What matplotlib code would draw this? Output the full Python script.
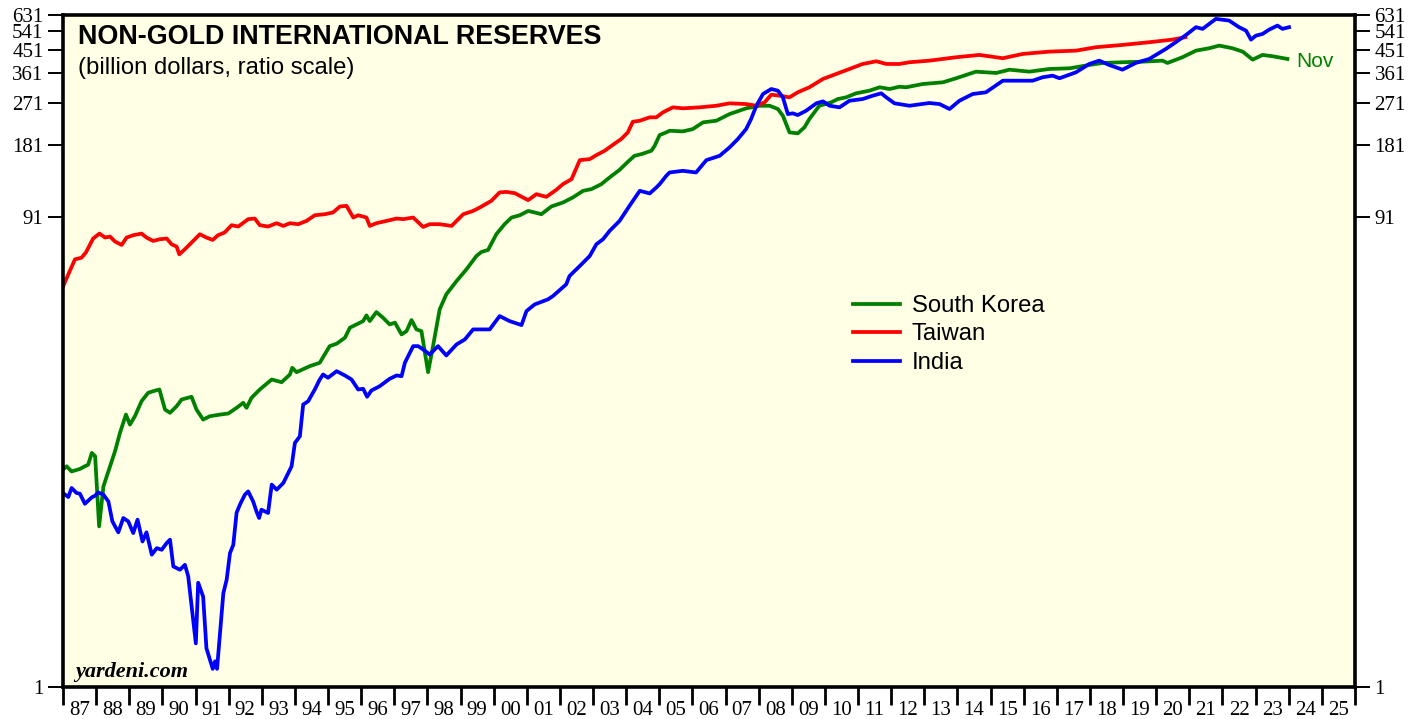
import numpy as np
import matplotlib
matplotlib.use("Agg")
import matplotlib.pyplot as plt
from matplotlib.ticker import FixedLocator, FixedFormatter, NullFormatter, NullLocator

# ---------------- data (billion US$) ----------------
korea_years = [1987.00, 1987.11, 1987.26, 1987.51, 1987.66, 1987.76, 1987.87, 1987.97,
               1988.09, 1988.22, 1988.37, 1988.57, 1988.72, 1988.90,
               1989.02, 1989.17, 1989.37, 1989.57, 1989.72, 1989.91,
               1990.08, 1990.23, 1990.43, 1990.58, 1990.88,
               1991.03, 1991.23, 1991.43, 1991.74, 1991.99,
               1992.24, 1992.44, 1992.54, 1992.69, 1992.94,
               1993.30, 1993.60, 1993.85, 1993.92,
               1994.05, 1994.45, 1994.75,
               1995.05, 1995.26, 1995.51, 1995.66, 1995.86,
               1996.06, 1996.16, 1996.26, 1996.46, 1996.66, 1996.86,
               1997.02, 1997.22, 1997.37, 1997.52, 1997.67, 1997.82,
               1998.02, 1998.17, 1998.37, 1998.57, 1998.88,
               1999.18, 1999.48, 1999.63, 1999.83,
               2000.08, 2000.33, 2000.54, 2000.79,
               2001.04, 2001.24, 2001.44, 2001.74,
               2002.09, 2002.39, 2002.70, 2002.95,
               2003.25, 2003.50, 2003.80,
               2004.05, 2004.25, 2004.46, 2004.76, 2004.86,
               2005.01, 2005.21, 2005.31, 2005.71,
               2006.01, 2006.32, 2006.72,
               2007.12, 2007.62,
               2008.03, 2008.33, 2008.58, 2008.73, 2008.93,
               2009.18, 2009.38, 2009.53, 2009.83,
               2010.19, 2010.39, 2010.64, 2010.94,
               2011.34, 2011.65, 2011.95,
               2012.25, 2012.45, 2012.95,
               2013.56, 2013.96,
               2014.56,
               2015.17, 2015.57,
               2016.17, 2016.77,
               2017.38, 2017.98,
               2018.38, 2018.98,
               2019.59,
               2020.19, 2020.34, 2020.79,
               2021.20, 2021.60, 2021.90,
               2022.30, 2022.61, 2022.91,
               2023.21, 2023.51, 2023.96]
korea_vals = [8.05, 8.31, 7.91, 8.10, 8.31, 8.44, 9.45, 9.15,
              4.67, 6.85, 7.91, 9.60, 11.45, 13.65,
              12.40, 13.43, 15.51, 16.82, 17.08, 17.36,
              14.32, 13.88, 14.79, 15.77, 16.19,
              14.32, 13.01, 13.43, 13.65, 13.79,
              14.56, 15.28, 14.56, 16.03, 17.36,
              19.11, 18.62, 20.05, 21.38,
              20.50, 21.72, 22.44,
              26.32, 26.94, 28.53, 31.41, 32.42,
              33.47, 35.35, 33.47, 36.49, 34.57, 32.42,
              32.96, 29.45, 30.40, 33.80, 30.90, 30.40,
              20.50, 26.32, 37.45, 43.26, 49.15,
              55.02, 62.51, 64.96, 66.22,
              77.0, 84.8, 90.4, 92.4,
              96.3, 94.9, 93.3, 100.5,
              104.4, 109.6, 116.8, 118.7,
              124.5, 132.8, 142.8,
              154.3, 163.4, 166.1, 171.5, 179.9,
              199.4, 204.6, 207.8, 206.6,
              211.2, 225.3, 228.8,
              243.9, 257.7,
              264.2, 264.2, 256.0, 240.0, 204.6,
              202.7, 214.7, 232.5, 264.2,
              273.0, 281.8, 286.4, 297.7,
              305.2, 315.4, 310.2,
              317.1, 315.4, 325.4,
              330.8, 343.9,
              366.4,
              361.8, 373.4,
              366.4, 375.9,
              378.4, 390.7,
              398.3, 401.0,
              403.3,
              407.2, 398.3, 420.7,
              448.3, 458.7, 470.4,
              458.7, 444.0, 411.2,
              430.2, 424.8, 414.0]

taiwan_years = [1987.00, 1987.16, 1987.36, 1987.56, 1987.69, 1987.91, 1988.10, 1988.27, 1988.42, 1988.57,
                1988.77, 1988.92, 1989.12, 1989.37, 1989.52, 1989.72, 1989.92, 1990.13, 1990.28, 1990.43,
                1990.51, 1990.68, 1990.93, 1991.13, 1991.33, 1991.52, 1991.68, 1991.88, 1992.09, 1992.29,
                1992.59, 1992.79, 1992.94, 1993.19, 1993.45, 1993.65, 1993.85, 1994.10, 1994.35, 1994.60,
                1994.90, 1995.15, 1995.36, 1995.56, 1995.76, 1995.91, 1996.16, 1996.26, 1996.46, 1996.76,
                1997.07, 1997.27, 1997.57, 1997.87, 1998.07, 1998.37, 1998.73, 1999.08, 1999.38, 1999.58,
                1999.93, 2000.18, 2000.38, 2000.64, 2000.79, 2001.04, 2001.29, 2001.59, 2001.89, 2002.09,
                2002.35, 2002.60, 2002.90, 2003.10, 2003.35, 2003.70, 2003.85, 2004.05, 2004.20, 2004.41,
                2004.71, 2004.91, 2005.11, 2005.41, 2005.71, 2006.22, 2006.72, 2007.12, 2007.62, 2007.93,
                2008.18, 2008.38, 2008.63, 2008.93, 2009.18, 2009.53, 2009.94, 2010.34, 2010.74, 2011.14,
                2011.55, 2011.85, 2012.25, 2012.55, 2013.15, 2013.96, 2014.66, 2015.37, 2015.97, 2016.77,
                2017.58, 2018.18, 2018.98, 2019.79, 2020.49, 2020.88]
taiwan_vals = [46.6, 52.4, 60.5, 61.5, 64.6, 73.9, 77.5, 74.6, 75.3, 71.8,
               69.5, 74.6, 76.3, 77.5, 74.6, 72.2, 73.4, 73.9, 69.9, 68.4,
               63.5, 66.7, 72.2, 77.0, 74.6, 72.9, 76.3, 78.3, 84.0, 82.9,
               89.0, 89.5, 84.0, 82.9, 85.6, 83.4, 85.6, 84.8, 87.5, 92.4,
               93.3, 94.9, 100.5, 101.1, 90.4, 92.4, 90.4, 83.4, 85.6, 87.5,
               89.5, 89.0, 90.4, 82.6, 84.8, 84.8, 83.4, 93.3, 96.3, 99.5,
               106.1, 115.0, 115.6, 114.2, 111.3, 106.8, 113.1, 110.2, 117.9, 124.5,
               130.6, 156.8, 158.3, 164.5, 171.5, 185.8, 191.9, 204.6, 226.6, 228.8,
               236.4, 236.4, 248.0, 260.2, 257.7, 260.2, 264.2, 270.4, 268.5, 264.2,
               273.0, 293.8, 290.9, 286.4, 300.6, 315.4, 341.6, 358.4, 375.9, 394.5,
               404.8, 394.5, 394.5, 401.0, 407.2, 420.7, 430.2, 416.8, 434.3, 444.0,
               448.3, 463.2, 473.5, 486.0, 498.3, 510.0]

india_years = [1987.00, 1987.16, 1987.26, 1987.41, 1987.51, 1987.66, 1987.87, 1987.97, 1988.06, 1988.22,
               1988.37, 1988.49, 1988.67, 1988.82, 1988.97, 1989.12, 1989.25, 1989.40, 1989.52, 1989.68,
               1989.83, 1989.98, 1990.13, 1990.23, 1990.33, 1990.53, 1990.68, 1990.78, 1990.93, 1991.01,
               1991.08, 1991.23, 1991.33, 1991.52, 1991.59, 1991.65, 1991.74, 1991.84, 1991.94, 1992.04,
               1992.14, 1992.24, 1992.34, 1992.49, 1992.59, 1992.74, 1992.84, 1992.92, 1992.99, 1993.19,
               1993.30, 1993.45, 1993.65, 1993.90, 1994.00, 1994.15, 1994.25, 1994.40, 1994.60, 1994.75,
               1994.85, 1995.00, 1995.26, 1995.51, 1995.71, 1995.91, 1996.06, 1996.18, 1996.31, 1996.56,
               1996.86, 1997.07, 1997.22, 1997.32, 1997.57, 1997.72, 1997.87, 1998.07, 1998.32, 1998.57,
               1998.88, 1999.13, 1999.38, 1999.68, 1999.88, 2000.18, 2000.48, 2000.84, 2000.99, 2001.24,
               2001.64, 2001.79, 2002.19, 2002.29, 2002.60, 2002.90, 2003.10, 2003.30, 2003.50, 2003.80,
               2004.10, 2004.41, 2004.71, 2004.91, 2005.01, 2005.21, 2005.31, 2005.71, 2006.11, 2006.42,
               2006.82, 2007.12, 2007.37, 2007.62, 2007.77, 2007.93, 2008.13, 2008.38, 2008.58, 2008.73,
               2008.88, 2009.03, 2009.18, 2009.43, 2009.74, 2009.94, 2010.14, 2010.44, 2010.74, 2011.14,
               2011.44, 2011.70, 2011.85, 2012.10, 2012.55, 2013.15, 2013.46, 2013.76, 2014.06, 2014.46,
               2014.86, 2015.37, 2015.87, 2016.27, 2016.57, 2016.87, 2017.08, 2017.58, 2017.98, 2018.28,
               2018.58, 2018.98, 2019.38, 2019.79, 2020.29, 2020.59, 2020.90, 2021.20, 2021.40, 2021.80,
               2022.20, 2022.50, 2022.71, 2022.86, 2023.01, 2023.21, 2023.41, 2023.66, 2023.81, 2024.01]
india_vals = [6.43, 6.19, 6.75, 6.43, 6.39, 5.80, 6.17, 6.27, 6.47, 6.33,
              5.93, 4.90, 4.41, 5.06, 4.90, 4.38, 4.98, 4.04, 4.41, 3.56,
              3.79, 3.73, 3.98, 4.11, 3.18, 3.08, 3.23, 2.89, 1.90, 1.52,
              2.72, 2.38, 1.45, 1.19, 1.28, 1.19, 1.68, 2.46, 2.80, 3.61,
              3.91, 5.32, 5.75, 6.33, 6.53, 5.93, 5.39, 5.06, 5.48, 5.31,
              6.97, 6.64, 7.08, 8.31, 10.40, 11.08, 15.03, 15.51, 17.36, 19.11,
              20.05, 19.43, 20.70, 19.86, 19.11, 17.36, 17.48, 16.19, 17.20, 17.92,
              19.24, 19.86, 19.73, 22.44, 26.32, 26.32, 25.50, 24.30, 26.32, 24.07,
              26.76, 28.07, 30.90, 30.90, 30.90, 35.12, 33.47, 32.21, 36.85, 39.29,
              41.23, 42.56, 47.62, 51.59, 56.79, 62.51, 69.94, 73.4, 79.5, 87.5,
              101.1, 116.8, 113.9, 120.6, 124.5, 134.9, 139.3, 141.5, 139.3, 156.8,
              163.4, 177.1, 191.9, 211.2, 232.5, 264.2, 295.7, 310.2, 305.2, 286.4,
              243.9, 245.6, 241.6, 251.8, 270.4, 275.6, 264.2, 260.2, 277.2, 281.8,
              290.9, 297.7, 286.4, 270.4, 264.2, 271.2, 268.5, 256.0, 277.2, 295.7,
              300.6, 336.0, 336.0, 336.0, 347.2, 352.6, 343.9, 364.2, 394.5, 407.2,
              390.7, 373.4, 398.3, 414.0, 455.7, 486.0, 521.2, 561.4, 552.3, 607.9,
              598.2, 561.4, 543.3, 498.3, 517.7, 526.3, 548.6, 570.1, 552.3, 561.4]

series_names = ["South Korea", "Taiwan", "India"]
ytick_values = [1, 91, 181, 271, 361, 451, 541, 631]
year_labels = ["%02d" % (y % 100) for y in range(1987, 2026)]
last_label = "Nov"

assert len(korea_years) == len(korea_vals)
assert len(taiwan_years) == len(taiwan_vals)
assert len(india_years) == len(india_vals)

# ---------------- figure ----------------
plt.rcParams["font.family"] = ["Liberation Serif", "DejaVu Serif"]
W, H = 1426, 719
fig = plt.figure(figsize=(W / 100, H / 100), dpi=100)
fig.patch.set_facecolor("white")
ax = fig.add_axes([63 / W, 32 / H, 1292 / W, 672 / H])
ax.set_facecolor("#FFFFE6")

GREEN, RED, BLUE = "#008000", "#FF0000", "#0000FF"
lw = 2.7
l1, = ax.plot(korea_years, korea_vals, color=GREEN, lw=lw, solid_joinstyle="round")
l2, = ax.plot(taiwan_years, taiwan_vals, color=RED, lw=lw, solid_joinstyle="round")
l3, = ax.plot(india_years, india_vals, color=BLUE, lw=lw, solid_joinstyle="round")

ax.set_yscale("log")
ax.set_ylim(1, 631)
ax.set_xlim(1987, 2026)

ax.yaxis.set_major_locator(FixedLocator(ytick_values))
ax.yaxis.set_major_formatter(FixedFormatter([str(v) for v in ytick_values]))
ax.yaxis.set_minor_locator(NullLocator())
ax.tick_params(axis="y", which="major", direction="out", length=11, width=1.4,
               left=True, right=True, labelleft=True, labelright=True,
               labelsize=15, pad=3, color="black")

ax.xaxis.set_major_locator(FixedLocator(np.arange(1987, 2027)))
ax.xaxis.set_major_formatter(NullFormatter())
ax.xaxis.set_minor_locator(FixedLocator(np.arange(1987.5, 2026, 1.0)))
ax.xaxis.set_minor_formatter(FixedFormatter(year_labels))
ax.tick_params(axis="x", which="major", direction="out", length=13, width=2.0)
ax.tick_params(axis="x", which="minor", length=0, pad=10, labelsize=15)

for s in ax.spines.values():
    s.set_linewidth(2.6)
    s.set_color("black")

# titles
ax.text(0.0116, 0.986, "NON-GOLD INTERNATIONAL RESERVES", transform=ax.transAxes,
        ha="left", va="top", fontsize=19.4, fontweight="bold", family="Liberation Sans")
ax.text(0.0116, 0.938, "(billion dollars, ratio scale)", transform=ax.transAxes,
        ha="left", va="top", fontsize=17.2, family="Liberation Sans")

# watermark
ax.text(0.0093, 0.022, "yardeni.com", transform=ax.transAxes, ha="left", va="center",
        fontsize=16, fontweight="bold", fontstyle="italic", family="Liberation Serif")

# last-observation label
ax.annotate(last_label, xy=(korea_years[-1], korea_vals[-1]), xytext=(6, -1.5),
            textcoords="offset points", ha="left", va="center", color=GREEN,
            fontsize=15, family="Liberation Sans")

leg = ax.legend([l1, l2, l3], series_names, loc="upper left",
                bbox_to_anchor=((853 - 63) / 1292, (687 - 295) / 672),
                frameon=False, prop={"family": "Liberation Sans", "size": 17.2},
                handlelength=1.96, handletextpad=0.5, labelspacing=0.27,
                borderpad=0, borderaxespad=0)

fig.savefig("out.png", dpi=100, facecolor="white")
